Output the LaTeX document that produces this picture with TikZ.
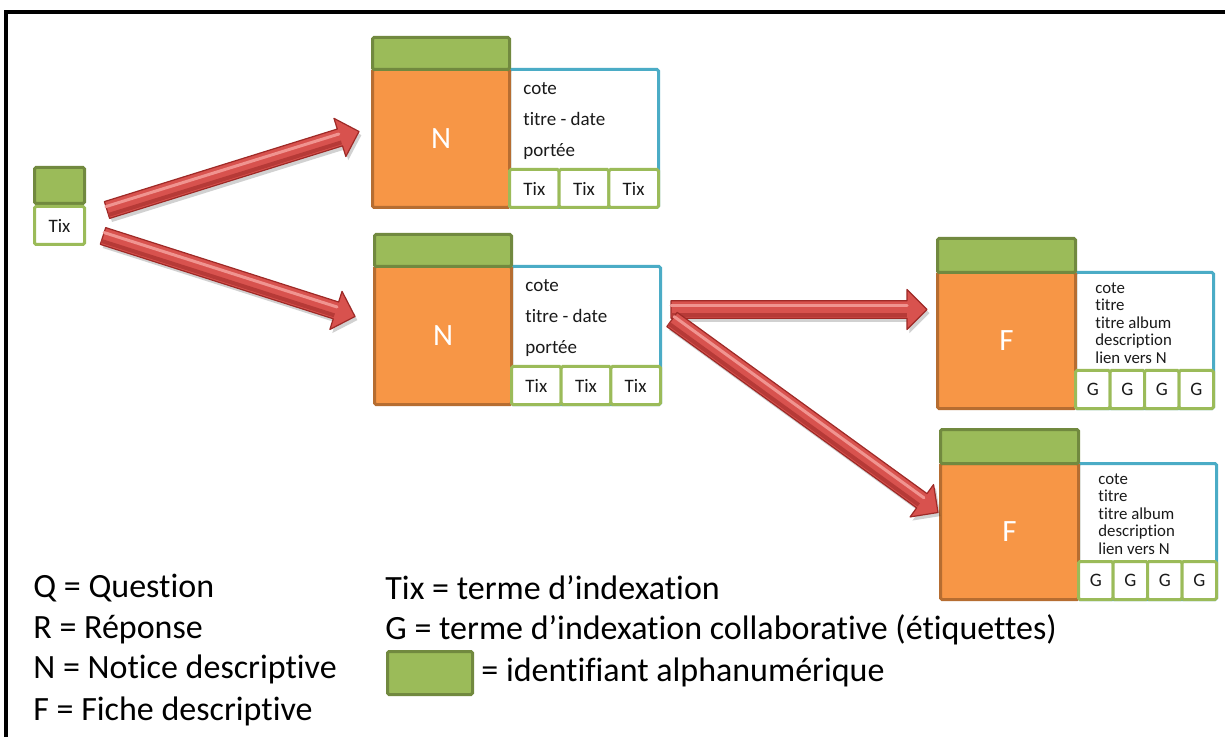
\documentclass[tikz,border=0pt]{standalone}
\usepackage{fontspec}
\setmainfont{Carlito}[Ligatures={NoCommon,NoContextual}, Contextuals=NoAlternate]
\usetikzlibrary{calc}

\definecolor{idfill}{HTML}{9BBB59}
\definecolor{iddraw}{HTML}{71893F}
\definecolor{docfill}{HTML}{F79646}
\definecolor{docdraw}{HTML}{B66D31}
\definecolor{infodraw}{HTML}{4BACC6}
\definecolor{tagdraw}{HTML}{9BBB59}
\definecolor{arrowmid}{HTML}{D8524E}
\definecolor{arrowdark}{HTML}{9E2A27}
\definecolor{arrowlow}{HTML}{B63A37}
\definecolor{arrowlight}{HTML}{F09490}
\definecolor{inktext}{HTML}{1A1A1A}

\tikzset{
  box/.style={rectangle, inner sep=0pt, anchor=north west, line width=1.5pt, rounded corners=0.8pt},
  idbox/.style={box, fill=idfill, draw=iddraw},
  docbox/.style={box, fill=docfill, draw=docdraw, text=white, font=\fontsize{15.5}{18}\selectfont},
  infobox/.style={box, fill=white, draw=infodraw},
  tagbox/.style={box, fill=white, draw=tagdraw, text=inktext, font=\fontsize{9.5}{11}\selectfont},
  ntext/.style={anchor=west, inner sep=0pt, align=left, text=inktext, font=\fontsize{9.5}{15.5}\selectfont},
  ftext/.style={anchor=west, inner sep=0pt, align=left, text=inktext, font=\fontsize{8.4}{8.75}\selectfont},
  legend/.style={anchor=west, inner sep=0pt, text=black, font=\fontsize{17}{20}\selectfont},
}

% notice record: identifier, body, info panel with three index terms
\newcommand\noticebox[3]{%
  \node[infobox, minimum width=74.5pt, minimum height=69pt] (#1-info) at (#2+137,#3+32) {};
  \node[docbox, minimum width=68.5pt, minimum height=69pt] (#1-doc) at (#2,#3+32) {N};
  \node[idbox, minimum width=68.5pt, minimum height=16pt] (#1-id) at (#2,#3) {};
  \node[tagbox, minimum width=24.83pt, minimum height=19pt] (#1-t1) at (#2+137,#3+132) {Tix};
  \node[tagbox, minimum width=24.83pt, minimum height=19pt] (#1-t2) at (#2+186.67,#3+132) {Tix};
  \node[tagbox, minimum width=24.83pt, minimum height=19pt] (#1-t3) at (#2+236.33,#3+132) {Tix};
  \node[ntext] (#1-txt) at (#2+152,#3+85) {cote\\titre - date\\portée};
}

% record card: identifier, body, info panel with four tags
\newcommand\cardbox[3]{%
  \node[infobox, minimum width=69pt, minimum height=68pt] (#1-info) at (#2+138,#3+34) {};
  \node[docbox, minimum width=69pt, minimum height=68pt] (#1-doc) at (#2,#3+34) {F};
  \node[idbox, minimum width=69pt, minimum height=17pt] (#1-id) at (#2,#3) {};
  \node[tagbox, minimum width=17.25pt, minimum height=19pt] (#1-g1) at (#2+138,#3+132) {G};
  \node[tagbox, minimum width=17.25pt, minimum height=19pt] (#1-g2) at (#2+172.5,#3+132) {G};
  \node[tagbox, minimum width=17.25pt, minimum height=19pt] (#1-g3) at (#2+207,#3+132) {G};
  \node[tagbox, minimum width=17.25pt, minimum height=19pt] (#1-g4) at (#2+241.5,#3+132) {G};
  \node[ftext] (#1-txt) at (#2+159,#3+86) {cote\\titre\\titre album\\description\\lien vers N};
}

% block arrow outline from tail #1 to tip #2
\newcommand\bapath[2]{%
  ($(#1)!4.4pt!90:(#2)$) -- ($(ba-n)!4.4pt!90:(#2)$) -- ($(ba-n)!10pt!90:(#2)$) -- (#2)
  -- ($(ba-n)!10pt!-90:(#2)$) -- ($(ba-n)!4.4pt!-90:(#2)$) -- ($(#1)!4.4pt!-90:(#2)$) -- cycle}

\newcommand\blockarrow[2]{%
  \coordinate (ba-n) at ($(#2)!10pt!(#1)$);
  \fill[black, opacity=0.18, transform canvas={shift={(1.2pt,-1.8pt)}}] \bapath{#1}{#2};
  \filldraw[fill=arrowmid, draw=arrowdark, line width=0.6pt, line join=round] \bapath{#1}{#2};
  \draw[arrowlow, line width=2pt] ($(#1)!2.6pt!-90:(#2)$) -- ($(ba-n)!2.6pt!-90:(#2)$);
  \draw[arrowlight, line width=1.5pt, line cap=round] ($(#1)!1.8pt!90:(#2)$) -- ($(ba-n)!1.8pt!90:(#2)$);
}

\begin{document}
\begin{tikzpicture}[x=0.5pt, y=-0.5pt]
  \clip (0,0) rectangle (1225,737);
  \fill[white] (0,0) rectangle (1225,737);

  % outer frame
  \draw[line width=2pt] (5.5,12.5) rectangle (1260,770);

  % starting term
  \node[idbox, minimum width=25pt, minimum height=18pt] (t0-id) at (33,166) {};
  \node[tagbox, minimum width=25pt, minimum height=19pt] (t0-tag) at (33,205) {Tix};

  % records
  \noticebox{n1}{371}{36}
  \noticebox{n2}{373}{233}
  \cardbox{f1}{936}{237}
  \cardbox{f2}{939}{428}

  % arrow ends
  \coordinate (a1s) at ($(t0-tag.north east)+(21,5)$);
  \coordinate (a1e) at ($(n1-doc.west)+(-12,-7)$);
  \coordinate (a2s) at ($(t0-tag.north east)+(17,31)$);
  \coordinate (a2e) at ($(n2-doc.west)+(-18,-19)$);
  \coordinate (a3s) at ($(n2-info.east)+(9,-26)$);
  \coordinate (a3e) at ($(f1-doc.west)+(-9,-31)$);
  \coordinate (a4s) at ($(n2-info.east)+(10,-16)$);
  \coordinate (a4e) at ($(f2-doc.west)+(-1,-19)$);

  \blockarrow{a1s}{a1e}
  \blockarrow{a2s}{a2e}
  \blockarrow{a3s}{a3e}
  \blockarrow{a4s}{a4e}

  % legend
  \node[legend] (lq) at (33,588) {Q = Question};
  \node[legend] (lr) at (33,630) {R = Réponse};
  \node[legend] (ln) at (33,669) {N = Notice descriptive};
  \node[legend] (lf) at (33,711) {F = Fiche descriptive};
  \node[legend] (ltix) at (385,588) {Tix = terme d’indexation};
  \node[legend] (lg) at (385,630) {G = terme d’indexation collaborative (étiquettes)};
  \node[idbox, minimum width=42.5pt, minimum height=21.5pt] (lid) at (386,650) {};
  \node[legend] (lidtxt) at (481,672) {= identifiant alphanumérique};
\end{tikzpicture}
\end{document}
